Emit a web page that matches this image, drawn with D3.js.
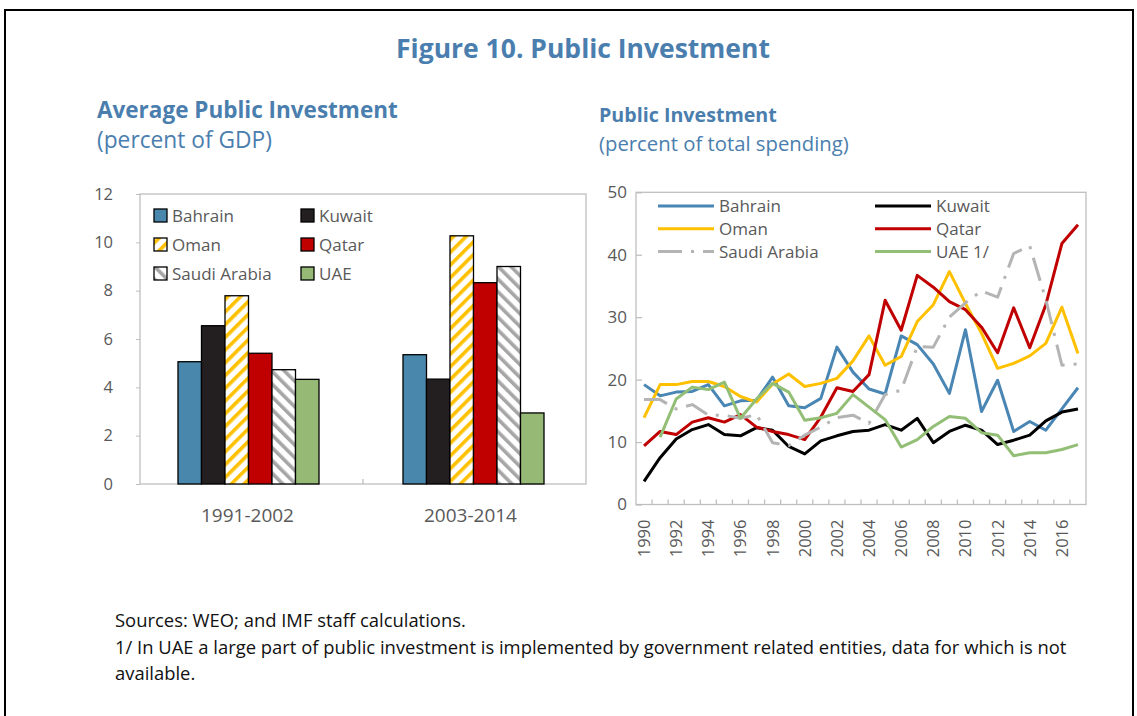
<!DOCTYPE html>
<html><head><meta charset="utf-8">
<script src="https://cdn.jsdelivr.net/npm/d3@7"></script>
<style>body{margin:0;background:#fff} text{font-family:'Open Sans',sans-serif}</style>
</head><body><svg id="c" width="1137" height="716"></svg>
<script>
// ---------- DATA ----------
const barCategories = ["1991-2002", "2003-2014"];
const barSeries = ["Bahrain", "Kuwait", "Oman", "Qatar", "Saudi Arabia", "UAE"];
const bars1991_2002 = [5.06, 6.55, 7.79, 5.41, 4.73, 4.33];
const bars2003_2014 = [5.35, 4.34, 10.27, 8.33, 9.0, 2.94];
const barTicks = [0, 2, 4, 6, 8, 10, 12];

const years = d3.range(1990, 2018);
const yearLabels = [1990,1992,1994,1996,1998,2000,2002,2004,2006,2008,2010,2012,2014,2016];
const lineTicks = [0, 10, 20, 30, 40, 50];
const lineSeries = ["Bahrain", "Kuwait", "Oman", "Qatar", "Saudi Arabia", "UAE 1/"];
const bahrain = [19.2,17.4,18.0,18.1,19.2,15.8,16.6,16.7,20.4,15.8,15.5,17.0,25.2,21.2,18.5,17.7,27.0,25.6,22.5,17.8,28.0,14.9,19.9,11.7,13.3,11.9,15.3,18.7];
const kuwait  = [3.7,7.5,10.5,12.0,12.8,11.2,11.0,12.3,11.9,9.3,8.1,10.2,11.0,11.7,11.9,12.8,11.9,13.8,9.9,11.7,12.7,11.9,9.6,10.3,11.1,13.4,14.8,15.3];
const oman    = [13.9,19.2,19.2,19.7,19.7,18.9,17.3,16.4,19.3,20.9,18.9,19.4,20.2,23.0,27.0,22.3,23.7,29.3,32.0,37.3,32.2,27.4,21.8,22.6,23.8,25.8,31.6,24.2];
const qatar   = [9.4,11.7,11.2,13.2,13.9,13.2,14.4,12.4,11.7,11.2,10.4,14.0,18.7,18.1,20.8,32.7,27.9,36.7,34.8,32.5,31.2,28.4,24.3,31.5,25.1,32.0,41.8,44.8];
const saudi   = [16.8,16.8,15.3,16.0,14.3,14.3,13.8,14.4,9.9,9.4,11.1,12.4,13.9,14.3,13.0,17.6,18.3,25.3,25.2,30.0,32.3,34.2,33.2,40.2,41.4,32.8,22.3,22.5];
const uae     = [null,10.8,16.9,18.8,18.4,19.6,13.8,16.9,19.4,18.0,13.5,13.9,14.6,17.6,15.6,13.6,9.2,10.4,12.5,14.1,13.8,11.5,11.1,7.8,8.3,8.3,8.8,9.6];
const lineValues = [bahrain, kuwait, oman, qatar, saudi, uae];

// ---------- STYLE ----------
const blue = "#4A7EAE", axisGray = "#BFBFBF", labelGray = "#595959";
const barFills = ["#4A87AC", "#231F20", "url(#omanPat)", "#C00000", "url(#saudiPat)", "#96BA76"];
const lineColors = ["#4A86B4", "#000000", "#FFC000", "#C00000", "#B4B4B4", "#93BE76"];

const svg = d3.select("#c");
const defs = svg.append("defs");
function stripePattern(id, color, angle) {
  const p = defs.append("pattern").attr("id", id).attr("patternUnits", "userSpaceOnUse")
    .attr("width", 9).attr("height", 9).attr("patternTransform", `rotate(${angle})`);
  p.append("rect").attr("width", 9).attr("height", 9).attr("fill", "#fff");
  p.append("rect").attr("width", 3.6).attr("height", 9).attr("fill", color);
}
stripePattern("omanPat", "#FFC000", 45);
stripePattern("saudiPat", "#A6A6A6", -45);

function fit(sel, w) {
  const L = sel.node().getComputedTextLength();
  sel.attr("font-size", parseFloat(sel.attr("font-size")) * w / L);
  return sel;
}

// frame
svg.append("rect").attr("x", 5).attr("y", 10).attr("width", 1128).attr("height", 730)
  .attr("fill", "none").attr("stroke", "#000").attr("stroke-width", 2);

// titles
fit(svg.append("text").attr("x", 583).attr("y", 58).attr("text-anchor", "middle")
  .attr("font-size", 26).attr("font-weight", 700).attr("fill", blue)
  .text("Figure 10. Public Investment"), 374);
fit(svg.append("text").attr("x", 97).attr("y", 118).attr("font-size", 22).attr("font-weight", 700)
  .attr("fill", blue).text("Average Public Investment"), 301);
fit(svg.append("text").attr("x", 97).attr("y", 148).attr("font-size", 22)
  .attr("fill", blue).text("(percent of GDP)"), 175);
fit(svg.append("text").attr("x", 599).attr("y", 122).attr("font-size", 19).attr("font-weight", 700)
  .attr("fill", blue).text("Public Investment"), 178);
fit(svg.append("text").attr("x", 599).attr("y", 151).attr("font-size", 19)
  .attr("fill", blue).text("(percent of total spending)"), 250);

// ---------- BAR CHART ----------
const L = {x0: 140, x1: 586, y0: 194, y1: 484};
const xB = d3.scaleBand().domain(barCategories).range([L.x0, L.x1]);
const groupW = 141;
const xS = d3.scaleBand().domain(barSeries).range([0, groupW]);
const yB = d3.scaleLinear().domain([0, 12]).range([L.y1, L.y0]);
const barRows = [bars1991_2002, bars2003_2014];

svg.append("rect").attr("x", L.x0).attr("y", L.y0).attr("width", L.x1 - L.x0).attr("height", L.y1 - L.y0)
  .attr("fill", "none").attr("stroke", axisGray).attr("stroke-width", 1.3);

const yAxB = svg.append("g").attr("transform", `translate(${L.x0},0)`)
  .call(d3.axisLeft(yB).tickValues(barTicks).tickSize(4).tickPadding(23));
yAxB.select(".domain").remove();
yAxB.selectAll("line").attr("stroke", axisGray);
yAxB.selectAll("text").attr("font-size", 16.5).attr("fill", labelGray).attr("font-family", "'Open Sans',sans-serif");

// middle category tick
svg.append("line").attr("x1", xB("2003-2014")).attr("x2", xB("2003-2014"))
  .attr("y1", L.y1).attr("y2", L.y1 - 5).attr("stroke", axisGray).attr("stroke-width", 1.3);

barCategories.forEach((c, ci) => {
  const off = xB(c) + (xB.bandwidth() - groupW) / 2 - 3 + ci * 2;
  svg.append("g").selectAll("rect").data(barRows[ci]).join("rect")
    .attr("x", (d, i) => off + xS(barSeries[i]))
    .attr("y", d => yB(d)).attr("width", xS.bandwidth()).attr("height", d => yB(0) - yB(d))
    .attr("fill", (d, i) => barFills[i]).attr("stroke", "#000").attr("stroke-width", 1.3);
  fit(svg.append("text").attr("x", xB(c) + xB.bandwidth() / 2 - 4).attr("y", 522)
    .attr("text-anchor", "middle").attr("font-size", 16).attr("fill", labelGray).text(c), 93);
});

// bar legend
barSeries.forEach((s, i) => {
  const col = i % 2, row = Math.floor(i / 2);
  const x = col ? 301 : 154, y = 209 + row * 29;
  svg.append("rect").attr("x", x).attr("y", y).attr("width", 13).attr("height", 13)
    .attr("fill", barFills[i]).attr("stroke", "#000").attr("stroke-width", 1.3);
  svg.append("text").attr("x", x + 18).attr("y", y + 12.5).attr("font-size", 17)
    .attr("fill", labelGray).text(s);
});

// ---------- LINE CHART ----------
const R = {x0: 636, x1: 1086, y0: 192.3, y1: 504.5};
const xL = d3.scaleBand().domain(years).range([R.x0, R.x1]);
const yL = d3.scaleLinear().domain([0, 50]).range([R.y1, R.y0]);

svg.append("rect").attr("x", R.x0).attr("y", R.y0).attr("width", R.x1 - R.x0).attr("height", R.y1 - R.y0)
  .attr("fill", "none").attr("stroke", axisGray).attr("stroke-width", 1.3);

const yAxL = svg.append("g").attr("transform", `translate(${R.x0},0)`)
  .call(d3.axisLeft(yL).tickValues(lineTicks).tickSizeInner(-6).tickSizeOuter(0).tickPadding(9));
yAxL.select(".domain").remove();
yAxL.selectAll("line").attr("stroke", axisGray).attr("stroke-width", 1.3);
yAxL.selectAll("text").attr("font-size", 17).attr("fill", labelGray).attr("font-family", "'Open Sans',sans-serif");

// category boundary ticks
svg.append("g").selectAll("line").data(years.slice(1)).join("line")
  .attr("x1", d => xL(d)).attr("x2", d => xL(d)).attr("y1", R.y1).attr("y2", R.y1 - 5)
  .attr("stroke", axisGray).attr("stroke-width", 1.3);

const xAxL = svg.append("g").attr("transform", `translate(0,${R.y1})`)
  .call(d3.axisBottom(xL).tickValues(yearLabels).tickSize(0));
xAxL.select(".domain").remove();
xAxL.selectAll("text").attr("transform", "rotate(-90)").attr("text-anchor", "end")
  .attr("x", -15).attr("y", 0).attr("dy", "0.36em")
  .attr("font-size", 16.5).attr("fill", labelGray).attr("font-family", "'Open Sans',sans-serif");

const line = d3.line().defined(d => d.v != null)
  .x(d => xL(d.y) + xL.bandwidth() / 2).y(d => yL(d.v));
lineValues.forEach((vals, i) => {
  svg.append("path").datum(years.map((y, j) => ({y, v: vals[j]})))
    .attr("d", line).attr("fill", "none").attr("stroke", lineColors[i])
    .attr("stroke-width", 3).attr("stroke-linejoin", "round")
    .attr("stroke-dasharray", lineSeries[i] === "Saudi Arabia" ? "24,9,3,9" : null);
});

// line legend
lineSeries.forEach((s, i) => {
  const col = i % 2, row = Math.floor(i / 2);
  const x = col ? 875 : 658, y = 206 + row * 22.8;
  svg.append("line").attr("x1", x).attr("x2", x + 56).attr("y1", y).attr("y2", y)
    .attr("stroke", lineColors[i]).attr("stroke-width", 3)
    .attr("stroke-dasharray", s === "Saudi Arabia" ? "24,9,3,9" : null);
  svg.append("text").attr("x", x + 61).attr("y", y + 6).attr("font-size", 17)
    .attr("fill", labelGray).text(s);
});

// ---------- FOOTNOTES ----------
const notes = ["Sources: WEO; and IMF staff calculations.",
  "1/ In UAE a large part of public investment is implemented by government related entities, data for which is not",
  "available."];
const n2 = svg.append("text").attr("x", 115).attr("y", 654).attr("font-size", 16).attr("fill", "#111").text(notes[1]);
fit(n2, 952);
const fsN = n2.attr("font-size");
svg.append("text").attr("x", 115).attr("y", 627).attr("font-size", fsN).attr("fill", "#111").text(notes[0]);
svg.append("text").attr("x", 115).attr("y", 680).attr("font-size", fsN).attr("fill", "#111").text(notes[2]);
</script></body></html>
